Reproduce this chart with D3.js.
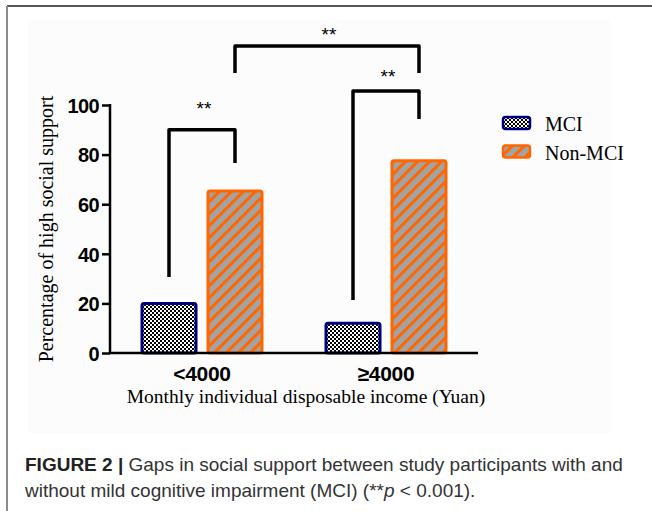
<!DOCTYPE html>
<html>
<head>
<meta charset="utf-8">
<script src="https://cdn.jsdelivr.net/npm/d3@7"></script>
<style>
  body { margin: 0; background: #fff; }
  svg { display: block; }
</style>
</head>
<body>
<div class="display"></div>
<script>
// data
const categories = ['<4000', '\u22654000'];
const groups = ['MCI', 'Non-MCI'];
const mciValues = [20, 12];
const nonMciValues = [65.3, 77.5];
const yTicks = [0, 20, 40, 60, 80, 100];

// significance brackets: [fromCategory, fromGroup, toCategory, toGroup], top and leg ends in % units
const bracketEnds = [
  ['<4000', 'MCI', '<4000', 'Non-MCI'],
  ['\u22654000', 'MCI', '\u22654000', 'Non-MCI'],
  ['<4000', 'Non-MCI', '\u22654000', 'Non-MCI']
];
const bracketTops = [90, 105.6, 123.8];
const bracketLegs = [[30.6, 76.6], [21.4, 94.4], [112.9, 112.9]];
const bracketLabelAt = [96, 109, 125.8];
const bracketLabels = ['**', '**', '**'];

const config = {
  width: 652,
  height: 511,
  plot: { left: 110, right: 478, top: 105, bottom: 353 },
  colors: { mciStroke: '#00007a', nonMciStroke: '#ff6600', stripeBg: '#a3a3a3' }
};

let svg;

function setupSvg() {
  svg = d3.select('.display')
    .append('svg')
    .attr('width', config.width)
    .attr('height', config.height);

  const defs = svg.append('defs');

  const checker = defs.append('pattern')
    .attr('id', 'checker')
    .attr('patternUnits', 'userSpaceOnUse')
    .attr('width', 4)
    .attr('height', 4);
  checker.append('rect').attr('width', 4).attr('height', 4).attr('fill', '#fff');
  checker.append('rect').attr('width', 2).attr('height', 2).attr('fill', '#000');
  checker.append('rect').attr('x', 2).attr('y', 2).attr('width', 2).attr('height', 2).attr('fill', '#000');

  const stripes = defs.append('pattern')
    .attr('id', 'stripes')
    .attr('patternUnits', 'userSpaceOnUse')
    .attr('width', 8.5)
    .attr('height', 8.5)
    .attr('patternTransform', 'rotate(45)');
  stripes.append('rect').attr('width', 8.5).attr('height', 8.5).attr('fill', config.colors.stripeBg);
  stripes.append('rect').attr('width', 3).attr('height', 8.5).attr('fill', config.colors.nonMciStroke);

  // page frame
  svg.append('rect').attr('width', config.width).attr('height', config.height).attr('fill', '#fff');
  svg.append('rect')
    .attr('x', 28).attr('y', 20).attr('width', 582).attr('height', 413)
    .attr('fill', '#fcfcfc');
  svg.append('line')
    .attr('x1', 7).attr('x2', config.width).attr('y1', 6).attr('y2', 6)
    .attr('stroke', '#555').attr('stroke-width', 2);
  svg.append('line')
    .attr('x1', 7).attr('x2', 7).attr('y1', 6).attr('y2', config.height)
    .attr('stroke', '#8a8a8a').attr('stroke-width', 2);
}

function draw() {
  const p = config.plot;

  const x = d3.scaleBand()
    .domain(categories)
    .range([p.left, p.right]);

  const xInner = d3.scaleBand()
    .domain(groups)
    .range([32, 152])
    .paddingInner(12 / 66);

  const y = d3.scaleLinear()
    .domain([0, 100])
    .range([p.bottom, p.top]);

  const fill = { 'MCI': 'url(#checker)', 'Non-MCI': 'url(#stripes)' };
  const stroke = { 'MCI': config.colors.mciStroke, 'Non-MCI': config.colors.nonMciStroke };

  const rows = [];
  categories.forEach((c, i) => {
    rows.push({ category: c, group: 'MCI', value: mciValues[i] });
    rows.push({ category: c, group: 'Non-MCI', value: nonMciValues[i] });
  });

  // bars
  svg.append('g')
    .selectAll('rect')
    .data(rows)
    .join('rect')
    .attr('x', d => x(d.category) + xInner(d.group))
    .attr('y', d => y(d.value))
    .attr('width', xInner.bandwidth())
    .attr('height', d => y(0) - y(d.value))
    .attr('rx', 2)
    .attr('fill', d => fill[d.group])
    .attr('stroke', d => stroke[d.group])
    .attr('stroke-width', 3);

  // y axis
  const yAxis = svg.append('g')
    .attr('transform', `translate(${p.left}, 0)`)
    .call(d3.axisLeft(y).tickValues(yTicks).tickSize(8).tickPadding(3));
  yAxis.select('.domain').remove();
  yAxis.append('line')
    .attr('x1', 0).attr('x2', 0)
    .attr('y1', y(100) - 1).attr('y2', y(0) + 1)
    .attr('stroke', '#000').attr('stroke-width', 2.5);
  yAxis.selectAll('.tick line').attr('stroke', '#000').attr('stroke-width', 2.5);
  yAxis.selectAll('.tick text')
    .attr('fill', '#000')
    .attr('dy', '0.36em')
    .style('font-family', '"Liberation Sans", Arial, sans-serif')
    .style('font-weight', 'bold')
    .style('font-size', '20px')
    .style('letter-spacing', '-0.6px');

  // x axis
  const xAxis = svg.append('g')
    .attr('transform', `translate(0, ${p.bottom})`)
    .call(d3.axisBottom(x).tickSize(0).tickPadding(13));
  xAxis.select('.domain').remove();
  xAxis.append('line')
    .attr('x1', p.left - 1).attr('x2', p.right)
    .attr('y1', 0).attr('y2', 0)
    .attr('stroke', '#000').attr('stroke-width', 2.5);
  xAxis.selectAll('.tick text')
    .attr('fill', '#000')
    .style('font-family', '"Liberation Sans", Arial, sans-serif')
    .style('font-weight', 'bold')
    .style('font-size', '21px')
    .style('letter-spacing', '-0.3px');

  // axis titles
  svg.append('text')
    .attr('transform', 'translate(53, 229) rotate(-90)')
    .attr('text-anchor', 'middle')
    .style('font-family', '"Liberation Serif", "Times New Roman", serif')
    .style('font-size', '20px')
    .text('Percentage of high social support');

  svg.append('text')
    .attr('x', 306)
    .attr('y', 403)
    .attr('text-anchor', 'middle')
    .style('font-family', '"Liberation Serif", "Times New Roman", serif')
    .style('font-size', '19.5px')
    .text('Monthly individual disposable income (Yuan)');

  // significance brackets
  const center = (c, g) => x(c) + xInner(g) + xInner.bandwidth() / 2;
  const bracketGroup = svg.append('g');
  bracketEnds.forEach((b, i) => {
    const x1 = center(b[0], b[1]);
    const x2 = center(b[2], b[3]);
    const yt = y(bracketTops[i]);
    bracketGroup.append('path')
      .attr('d', `M${x1},${y(bracketLegs[i][0])}V${yt}H${x2}V${y(bracketLegs[i][1])}`)
      .attr('fill', 'none')
      .attr('stroke', '#000')
      .attr('stroke-width', 3.5)
      .attr('stroke-linejoin', 'round');
    bracketGroup.append('text')
      .attr('x', (x1 + x2) / 2 + 2)
      .attr('y', y(bracketLabelAt[i]))
      .attr('text-anchor', 'middle')
      .style('font-family', '"Liberation Sans", Arial, sans-serif')
      .style('font-size', '19px')
      .text(bracketLabels[i]);
  });

  // legend
  const legend = svg.append('g')
    .attr('transform', 'translate(503, 117)');
  groups.forEach((g, i) => {
    legend.append('rect')
      .attr('x', 0)
      .attr('y', i * 28.5)
      .attr('width', 27)
      .attr('height', 12)
      .attr('rx', 2.5)
      .attr('fill', fill[g])
      .attr('stroke', stroke[g])
      .attr('stroke-width', 2.5);
    legend.append('text')
      .attr('x', 42)
      .attr('y', i * 28.5 + 14)
      .style('font-family', '"Liberation Serif", "Times New Roman", serif')
      .style('font-size', '20px')
      .text(g);
  });

  // caption
  const caption = svg.append('g')
    .style('font-family', '"Liberation Sans", Arial, sans-serif')
    .style('font-size', '19px')
    .attr('fill', '#333');
  const line1 = caption.append('text').attr('x', 25).attr('y', 471);
  line1.append('tspan').style('font-weight', 'bold').attr('fill', '#222').text('FIGURE 2 |');
  line1.append('tspan').text(' Gaps in social support between study participants with and');
  const line2 = caption.append('text').attr('x', 25).attr('y', 497);
  line2.append('tspan').text('without mild cognitive impairment (MCI) (**');
  line2.append('tspan').style('font-style', 'italic').text('p');
  line2.append('tspan').text(' < 0.001).');
}

window.addEventListener('load', () => {
  setupSvg();
  draw();
}, false);
</script>
</body>
</html>
